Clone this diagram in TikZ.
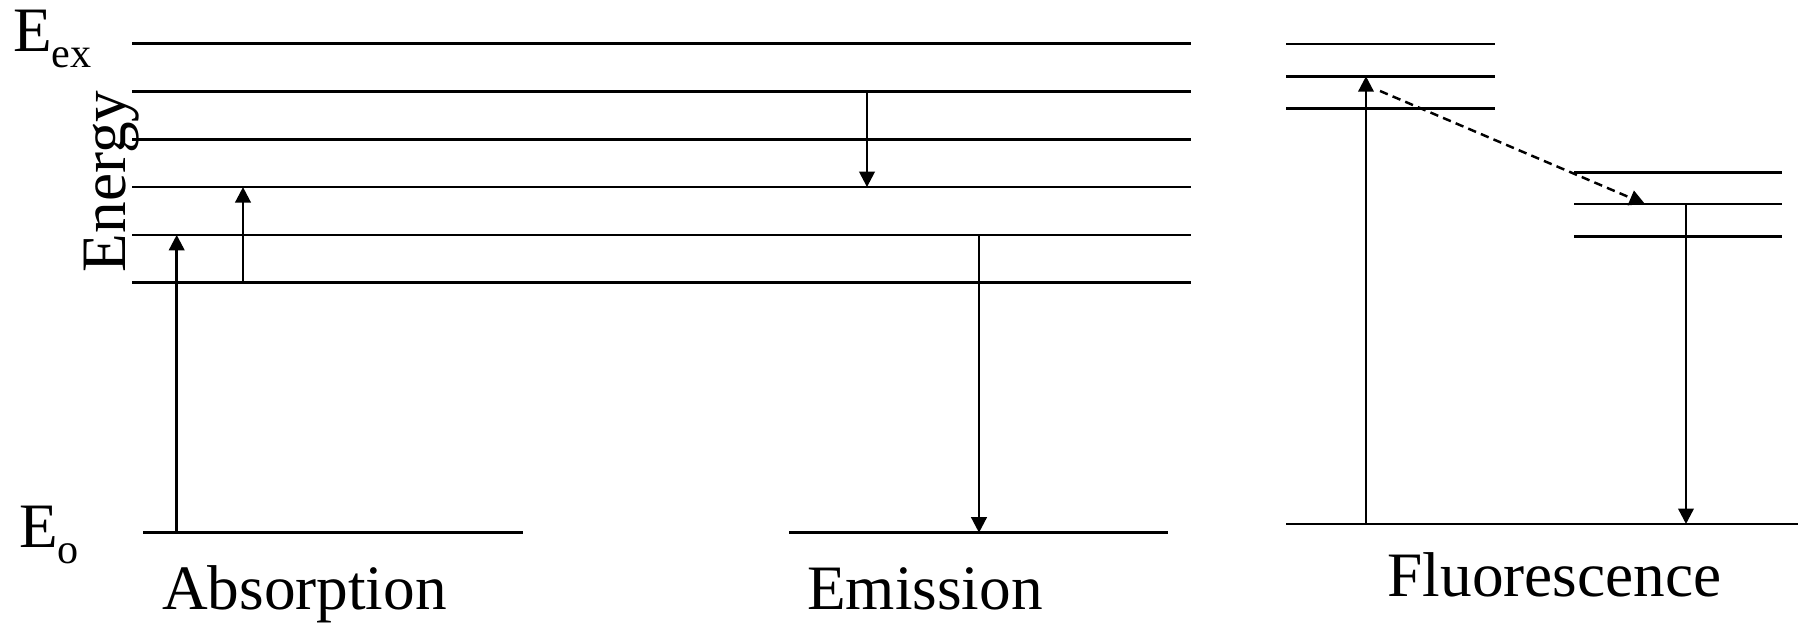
\documentclass[tikz,border=0pt]{standalone}
\usepackage{fontspec}
\setmainfont{Liberation Serif}
\usetikzlibrary{arrows.meta}

\begin{document}
\begin{tikzpicture}[line width=0.7pt, >={Triangle[length=4.4pt,width=4.4pt]},
  lbl/.style={inner sep=0pt, font=\fontsize{18}{21.6}\selectfont}]
\def\yo{3.413}
\def\dy{0.478}
\def\yf{1.0}
\useasboundingbox (0,0) rectangle (18.03,6.24);

% Niveaux communs (absorption et emission)
\draw (1.32,\yo) -- (11.91,\yo);
\draw (1.32,\yo+\dy) -- (11.91,\yo+\dy);
\draw (1.32,\yo+2*\dy) -- (11.91,\yo+2*\dy);
\draw (1.32,\yo+3*\dy) -- (11.91,\yo+3*\dy);
\draw (1.32,\yo+4*\dy) -- (11.91,\yo+4*\dy);
\draw (1.32,\yo+5*\dy) -- (11.91,\yo+5*\dy);

% Etats fondamentaux
\draw (1.43,0.913) -- (5.23,0.913);
\draw (7.89,0.913) -- (11.68,0.913);
\draw (12.86,\yf) -- (17.98,\yf);

% Absorption
\draw[->] (1.767,0.913) -- (1.767,\yo+\dy);
\draw[->] (2.43,\yo) -- (2.43,\yo+2*\dy);

% Emission
\draw[->] (8.67,\yo+4*\dy) -- (8.67,\yo+2*\dy);
\draw[->] (9.79,\yo+\dy) -- (9.79,0.913);

% Fluorescence : niveaux excites
\draw (12.86,5.80) -- (14.95,5.80);
\draw (12.86,5.477) -- (14.95,5.477);
\draw (12.86,5.153) -- (14.95,5.153);
\draw (15.74,4.517) -- (17.82,4.517);
\draw (15.74,4.20) -- (17.82,4.20);
\draw (15.74,3.877) -- (17.82,3.877);

% Fluorescence : transitions
\draw[->] (13.66,\yf) -- (13.66,5.477);
\draw[->, dash pattern=on 2.4pt off 1.5pt] (13.80,5.33) -- (16.45,4.20);
\draw[->] (16.86,4.20) -- (16.86,\yf);

% Etiquettes
\node[lbl, anchor=base west] (eex) at (0.12,5.72) {E\raisebox{-4.5pt}{\fontsize{12}{14}\selectfont ex}};
\node[lbl, anchor=base west] (eo) at (0.18,0.76) {E\raisebox{-4.3pt}{\fontsize{12}{14}\selectfont o}};
\node[lbl, rotate=90, anchor=base] (energy) at (1.25,4.425) {Energy};
\node[lbl, anchor=base] (absorption) at (3.045,0.14) {Absorption};
\node[lbl, anchor=base] (emission) at (9.25,0.14) {Emission};
\node[lbl, anchor=base] (fluorescence) at (15.545,0.27) {Fluorescence};

\end{tikzpicture}
\end{document}
